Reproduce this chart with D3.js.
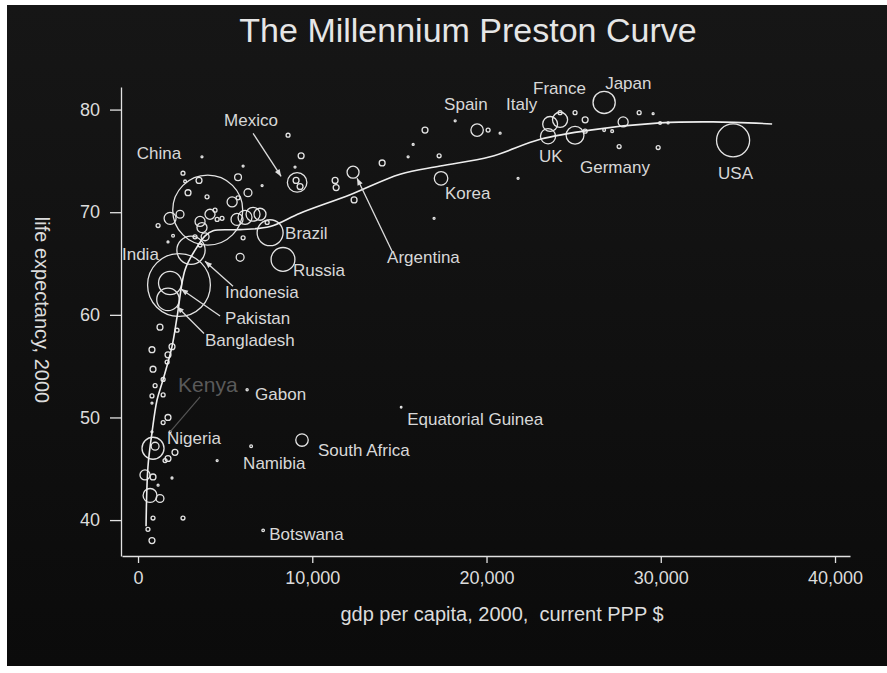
<!DOCTYPE html>
<html>
<head>
<meta charset="utf-8">
<script src="https://cdn.jsdelivr.net/npm/d3@7"></script>
<style>
  body { margin: 0; background: #ffffff; }
  text { font-family: "Liberation Sans", Arial, sans-serif; }
</style>
</head>
<body>
<div id="canvas"></div>
<script>
"use strict"

/* one entry per country circle, "" means the circle has no label */
let countryNames = [
    "China", "India", "Indonesia", "Pakistan", "Bangladesh", "Brazil", "Russia", "Mexico",
    "Argentina", "Korea", "Spain", "Italy", "France", "UK", "Germany", "Japan", "USA",
    "Nigeria", "South Africa", "Namibia", "Botswana", "Gabon", "Equatorial Guinea", "Kenya",
    "", "", "", "", "", "", "", "", "", "", "", "", "", "", "", "", "", "", "", "",
    "", "", "", "", "", "", "", "", "", "", "", "", "", "", "", "", "", "", "", "",
    "", "", "", "", "", "", "", "", "", "", "", "", "", "", "", "", "", "", "", "",
    "", "", "", "", "", "", "", "", "", "", "", "", "", "", "", "", "", "", "", "",
    "", "", "", "", "", "", "", "", "", "", "", "", "", "", "", "", "", "", ""
];

let gdpPerCapita = [
    4000, 2350, 3040, 1840, 1720, 7580, 8320, 9130,
    12340, 17390, 19460, 23650, 24220, 23530, 25080, 26750, 34150,
    860, 9410, 6490, 7180, 6260, 15100, 1840,
    3670, 2580, 3500, 2700, 5740, 6030, 7120, 6310, 5400, 5740, 2870, 3960, 1840, 2410, 1150, 3560,
    4130, 4540, 4420, 4820, 3670, 3850, 3270, 2010, 3560, 5680, 6140, 6600, 7000, 7410, 6030, 5860,
    1720, 8610, 9360, 9010, 11310, 11370, 9070, 9300, 16470, 18200, 20090, 20780, 14010, 15790, 15500, 17280,
    12400, 21810, 16990, 25080, 25660, 27840, 28760, 29560, 29960, 30420, 26750, 27210, 27610, 29850, 24220, 25660,
    1260, 2240, 800, 1950, 1720, 1670, 860, 1440, 980, 800, 1440, 800, 1720, 1440, 800, 2120,
    1720, 1550, 400, 860, 1950, 1150, 690, 1260, 860, 2580, 570, 800, 4540, 980
];

let lifeExpectancy = [
    70.2, 62.9, 66.3, 63.1, 61.5, 68.0, 65.4, 72.9,
    73.9, 73.3, 78.0, 78.6, 79.0, 77.4, 77.5, 80.7, 77.0,
    47.0, 47.8, 47.2, 39.0, 52.7, 51.0, 48.6,
    75.4, 73.8, 73.1, 73.0, 73.4, 74.5, 72.6, 71.9, 71.0, 71.4, 71.9, 71.5, 69.4, 69.8, 68.7, 69.1,
    69.8, 69.3, 70.2, 69.4, 68.5, 67.6, 67.6, 67.7, 66.8, 69.3, 69.5, 69.8, 69.8, 69.0, 67.5, 65.6,
    67.1, 77.5, 75.5, 74.4, 73.1, 72.4, 73.1, 72.5, 78.0, 78.9, 78.0, 77.7, 74.8, 76.6, 75.4, 75.5,
    71.2, 73.3, 69.4, 79.7, 79.0, 78.8, 79.7, 79.6, 78.7, 78.7, 78.0, 77.9, 76.4, 76.3, 79.7, 77.9,
    58.8, 58.5, 56.6, 56.9, 56.1, 55.4, 54.7, 53.7, 53.1, 52.1, 52.2, 51.4, 50.0, 49.5, 48.6, 46.6,
    46.0, 45.8, 44.4, 44.2, 44.1, 43.4, 42.4, 42.1, 40.2, 40.2, 39.1, 38.0, 45.8, 47.2
];

/* population in millions, sets the circle area */
let population = [
    1262, 1016, 206, 138, 131, 174, 146, 98,
    37, 47, 40, 57, 59, 59, 82, 127, 282,
    125, 40, 1.9, 1.7, 1.2, 0.5, 1,
    1, 4, 9, 2, 12, 1, 1, 16, 26, 4, 9, 4, 37, 16, 4, 26,
    26, 4, 4, 4, 26, 16, 4, 2, 4, 37, 50, 50, 37, 4, 4, 16,
    1, 4, 9, 1, 9, 9, 9, 9, 9, 1, 4, 1, 9, 1, 1, 4,
    9, 1, 1, 4, 9, 26, 4, 1, 2, 1, 2, 2, 4, 4, 4, 4,
    9, 4, 9, 9, 9, 4, 9, 4, 4, 4, 4, 1, 9, 4, 1, 9,
    9, 4, 26, 9, 1, 1, 50, 16, 4, 4, 4, 9, 1, 16
];

/* the smoothed curve through the cloud */
let curveGdp = [460, 570, 800, 1090, 1440, 1950, 2240, 2700, 3270, 3850, 4310, 5860, 7580,
    9300, 12170, 15040, 17340, 20210, 23080, 25950, 29960, 33000, 36390];
let curveLife = [39.4, 45.2, 48.5, 51.7, 53.7, 56.9, 59.8, 64.4, 66.3, 67.7, 68.2, 68.3, 68.6,
    69.9, 71.7, 73.7, 74.5, 75.4, 77.1, 78.0, 78.7, 78.8, 78.6];

let xTicks = [0, 10000, 20000, 30000, 40000];
let yTicks = [40, 50, 60, 70, 80];

/* where each label sits, in pixels from its circle centre */
let labelPlacement = {
    "China": [-71, -57], "India": [-57, -31], "Indonesia": [34, 42], "Pakistan": [55, 35],
    "Bangladesh": [37, 41], "Brazil": [15, 0], "Russia": [10, 11], "Mexico": [-73, -62],
    "Argentina": [34, 85], "Korea": [4, 15], "Spain": [-33, -26], "Italy": [-44, -20],
    "France": [-27, -32], "UK": [-9, 20], "Germany": [5, 32], "Japan": [1, -19],
    "USA": [-15, 33], "Nigeria": [14, -10], "South Africa": [16, 10], "Namibia": [-8, 17],
    "Botswana": [6, 4], "Gabon": [8, 4], "Equatorial Guinea": [6, 12], "Kenya": [8, -47]
};

/* pointer lines: from the label side to near the circle */
let arrowPlacement = {
    "Mexico": [[-44, -49], [-16, -6]],
    "Argentina": [[39, 79], [4, 6]],
    "Indonesia": [[42, 36], [14, 11]],
    "Pakistan": [[50, 33], [11, 6]],
    "Bangladesh": [[36, 34], [9, 7]]
};

let drawing = d3.select("#canvas")
    .append("svg")
    .attr("width", 887)
    .attr("height", 673);

let defs = drawing.append("defs");

let shade = defs.append("linearGradient")
    .attr("id", "shade")
    .attr("x1", 0).attr("y1", 0)
    .attr("x2", 0).attr("y2", 1);
shade.append("stop").attr("offset", "0%").attr("stop-color", "#161616");
shade.append("stop").attr("offset", "100%").attr("stop-color", "#0b0b0b");

defs.append("marker")
    .attr("id", "head")
    .attr("viewBox", "0 0 10 10")
    .attr("refX", 10)
    .attr("refY", 5)
    .attr("markerWidth", 8)
    .attr("markerHeight", 7)
    .attr("markerUnits", "userSpaceOnUse")
    .attr("orient", "auto")
    .append("path")
    .attr("d", "M0,1L10,5L0,9Z")
    .attr("fill", "#dddddd");

// dark panel, leaves a thin white edge on the left, top and bottom
drawing.append("rect")
    .attr("x", 7)
    .attr("y", 5)
    .attr("width", 880)
    .attr("height", 661)
    .attr("fill", "url(#shade)");

let x = d3.scaleLinear().domain([-920, 40860]).range([122, 850]);
let y = d3.scaleLinear().domain([36.5, 82.2]).range([556, 87]);
let r = d3.scaleSqrt().domain([0, 1262]).range([0, 35]);

// axes (tickSize first, it also resets the outer size)
let xAxis = drawing.append("g")
    .attr("transform", "translate(0,556)")
    .call(d3.axisBottom(x).tickValues(xTicks).tickFormat(d3.format(",")).tickSize(7).tickSizeOuter(0).tickPadding(8));

let yAxis = drawing.append("g")
    .attr("transform", "translate(121,0)")
    .call(d3.axisLeft(y).tickValues(yTicks).tickSize(11).tickSizeOuter(0).tickPadding(10));

drawing.selectAll(".domain, .tick line")
    .attr("stroke", "#e2e2e2")
    .attr("stroke-width", 1.3);

drawing.selectAll(".tick text")
    .attr("fill", "#dcdcdc")
    .style("font-family", "'Liberation Sans', Arial, sans-serif")
    .style("font-size", "18px");

// circles, biggest first so small ones stay on top
let order = d3.range(countryNames.length).sort((a, b) => population[b] - population[a]);

drawing.append("g")
    .selectAll("circle")
    .data(order)
    .join("circle")
    .attr("cx", i => x(gdpPerCapita[i]))
    .attr("cy", i => y(lifeExpectancy[i]))
    .attr("r", i => Math.max(r(population[i]), 0.8))
    .attr("fill", "none")
    .attr("stroke", "#e4e4e4")
    .attr("stroke-width", 1.3);

// smoothed curve
let smooth = d3.line()
    .x(i => x(curveGdp[i]))
    .y(i => y(curveLife[i]))
    .curve(d3.curveCatmullRom);

drawing.append("path")
    .attr("d", smooth(d3.range(curveGdp.length)))
    .attr("fill", "none")
    .attr("stroke", "#eeeeee")
    .attr("stroke-width", 1.6);

// pointer lines
Object.keys(arrowPlacement).forEach(name => {
    let i = countryNames.indexOf(name);
    let cx = x(gdpPerCapita[i]);
    let cy = y(lifeExpectancy[i]);
    let a = arrowPlacement[name];
    drawing.append("line")
        .attr("x1", cx + a[0][0])
        .attr("y1", cy + a[0][1])
        .attr("x2", cx + a[1][0])
        .attr("y2", cy + a[1][1])
        .attr("stroke", "#dddddd")
        .attr("stroke-width", 1.3)
        .attr("marker-end", "url(#head)");
});

// Kenya gets a faint line and a faint label
let kenya = countryNames.indexOf("Kenya");
drawing.append("line")
    .attr("x1", x(gdpPerCapita[kenya]) + 30)
    .attr("y1", y(lifeExpectancy[kenya]) - 35)
    .attr("x2", x(gdpPerCapita[kenya]))
    .attr("y2", y(lifeExpectancy[kenya]))
    .attr("stroke", "#555555")
    .attr("stroke-width", 1.2);

// country labels
Object.keys(labelPlacement).forEach(name => {
    let i = countryNames.indexOf(name);
    let off = labelPlacement[name];
    drawing.append("text")
        .attr("x", x(gdpPerCapita[i]) + off[0])
        .attr("y", y(lifeExpectancy[i]) + off[1])
        .attr("dy", "0.35em")
        .attr("fill", name === "Kenya" ? "#5a5a5a" : "#d8d8d8")
        .style("font-size", name === "Kenya" ? "21px" : "17px")
        .text(name);
});

// titles
drawing.append("text")
    .attr("x", 468)
    .attr("y", 42)
    .attr("text-anchor", "middle")
    .attr("fill", "#e6e6e6")
    .style("font-size", "34px")
    .text("The Millennium Preston Curve");

drawing.append("text")
    .attr("x", 502)
    .attr("y", 621)
    .attr("text-anchor", "middle")
    .attr("fill", "#dcdcdc")
    .style("font-size", "20px")
    .style("white-space", "pre")
    .text("gdp per capita, 2000,  current PPP $");

drawing.append("text")
    .attr("transform", "translate(42,310) rotate(90)")
    .attr("text-anchor", "middle")
    .attr("dy", "0.35em")
    .attr("fill", "#dcdcdc")
    .style("font-size", "20px")
    .text("life expectancy, 2000");
</script>
</body>
</html>
